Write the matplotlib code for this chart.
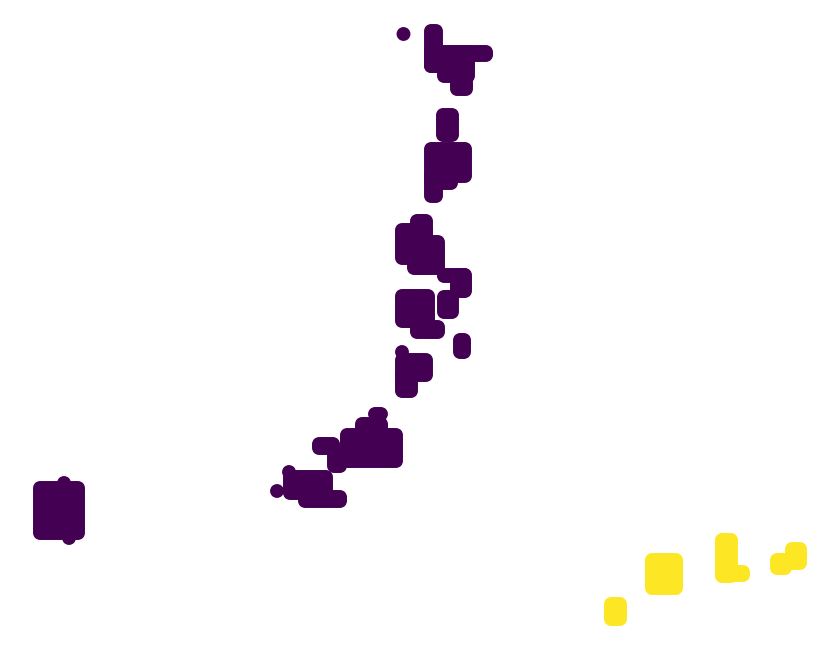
import numpy as np
import matplotlib
matplotlib.use("Agg")
import matplotlib.pyplot as plt

# land blocks: (x_start, x_end, y_start, y_end) in map-grid units
purple_blocks = [
    (40.35, 40.35, 61.6, 61.6),
    (43.1, 43.6, 61.9, 58.4),
    (43.1, 46.8, 59.8, 58.4),
    (44.4, 46.8, 58.4, 57.4),
    (45.7, 46.6, 58.4, 56.1),
    (45.0, 48.6, 59.8, 59.5),
    (44.3, 45.2, 53.5, 51.5),
    (43.1, 46.5, 50.1, 47.4),
    (43.1, 45.1, 47.4, 46.7),
    (43.1, 43.6, 47.4, 45.4),
    (41.7, 42.6, 42.9, 38.2),
    (40.2, 42.6, 42.0, 39.2),
    (41.4, 43.8, 40.8, 38.2),
    (44.4, 46.4, 37.5, 37.4),
    (45.7, 46.5, 37.5, 35.9),
    (40.2, 42.8, 35.4, 32.9),
    (44.4, 45.2, 35.3, 33.8),
    (41.7, 43.8, 32.3, 31.8),
    (46.0, 46.4, 31.0, 29.8),
    (40.2, 40.2, 29.8, 29.8),
    (40.2, 42.6, 29.0, 27.5),
    (40.2, 41.1, 27.5, 25.9),
    (37.5, 38.1, 23.6, 23.6),
    (36.2, 38.1, 22.6, 21.5),
    (34.7, 39.6, 21.5, 18.9),
    (31.9, 33.3, 20.6, 20.2),
    (33.4, 34.0, 19.6, 18.4),
    (28.9, 28.9, 17.8, 17.8),
    (29.0, 32.6, 17.3, 15.7),
    (27.7, 27.7, 15.9, 15.9),
    (30.5, 34.0, 15.3, 14.9),
    (4.0, 7.8, 16.2, 11.7),
    (6.4, 6.4, 16.7, 16.7),
    (6.9, 6.9, 11.2, 11.2),
]

yellow_blocks = [
    (61.1, 62.0, 4.6, 3.1),
    (65.2, 67.6, 9.0, 6.2),
    (72.2, 73.1, 11.0, 7.4),
    (73.1, 74.3, 7.8, 7.5),
    (79.2, 80.0, 10.1, 8.7),
    (77.7, 78.5, 9.0, 8.2),
]

step = 0.25


def block_points(blocks):
    xs, ys = [], []
    for x0, x1, y0, y1 in blocks:
        nx = int(np.ceil(abs(x1 - x0) / step)) + 1
        ny = int(np.ceil(abs(y1 - y0) / step)) + 1
        gx, gy = np.meshgrid(np.linspace(x0, x1, nx), np.linspace(y0, y1, ny))
        xs.append(gx.ravel())
        ys.append(gy.ravel())
    return np.concatenate(xs), np.concatenate(ys)


px, py = block_points(purple_blocks)
yx, yy = block_points(yellow_blocks)

x = np.concatenate([px, yx])
y = np.concatenate([py, yy])
labels = np.concatenate([np.zeros(len(px)), np.ones(len(yx))])

fig = plt.figure(figsize=(8.4, 6.5), dpi=100)
ax = fig.add_axes([0, 0, 1, 1])
ax.scatter(x, y, c=labels, cmap='viridis', s=100, linewidths=0)
ax.set_xlim(0, 84)
ax.set_ylim(0, 65)
ax.axis('off')

plt.savefig("out.png", dpi=100)
